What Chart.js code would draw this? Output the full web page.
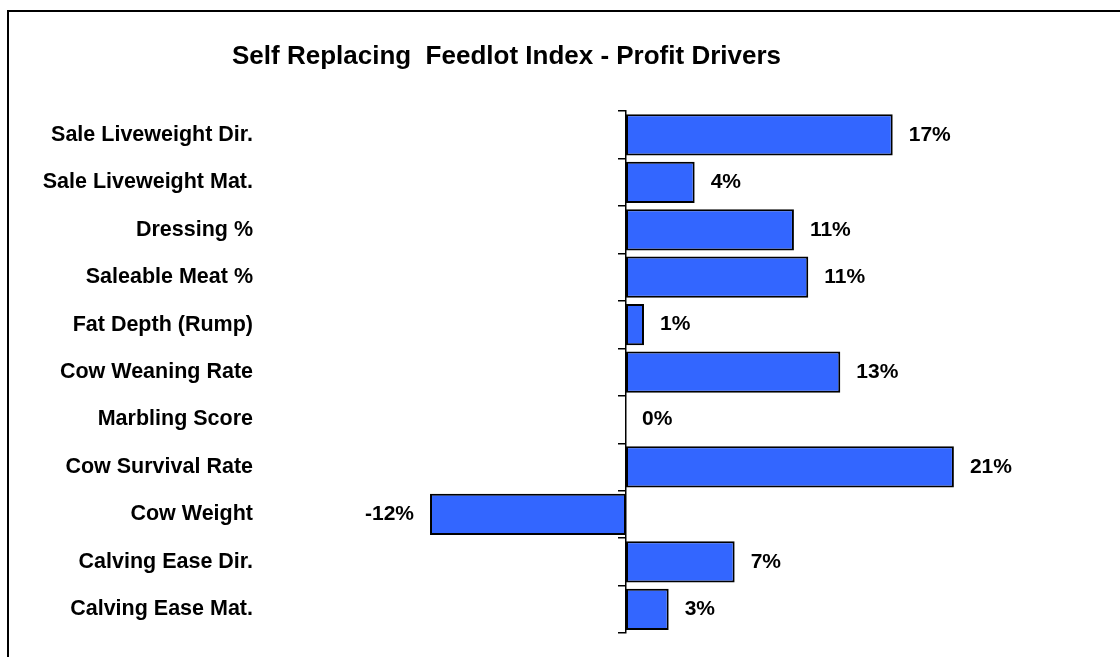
<!DOCTYPE html>
<html>
<head>
<meta charset="utf-8">
<script src="https://cdn.jsdelivr.net/npm/chart.js@4"></script>
<style>
  body { margin: 0; background: #fff; }
  #wrap { position: relative; width: 1120px; height: 657px; overflow: hidden; }
  #frame { position: absolute; left: 7px; top: 10px; width: 1200px; height: 700px;
           border-left: 2px solid #000; border-top: 2px solid #000; }
  #myChart { position: absolute; left: 0; top: 0; }
</style>
</head>
<body>
<div id="wrap"><div id="frame"></div><canvas id="myChart"></canvas></div>
<script>
const traits = ['Sale Liveweight Dir.', 'Sale Liveweight Mat.', 'Dressing %', 'Saleable Meat %', 'Fat Depth (Rump)',
    'Cow Weaning Rate', 'Marbling Score', 'Cow Survival Rate', 'Cow Weight', 'Calving Ease Dir.', 'Calving Ease Mat.']
const share = [16.74, 4.31, 10.54, 11.44, 1.13, 13.45, 0, 20.58, -12.3, 6.82, 2.68]
const shareLabels = ['17%', '4%', '11%', '11%', '1%', '13%', '0%', '21%', '-12%', '7%', '3%']

const font = '"Liberation Sans", Arial, sans-serif'

// value labels next to each bar
const barLabels = {
    id: 'barLabels',
    afterDatasetsDraw(chart) {
        const ctx = chart.ctx
        const meta = chart.getDatasetMeta(0)
        ctx.save()
        ctx.font = 'bold 21px ' + font
        ctx.fillStyle = '#000'
        ctx.textBaseline = 'middle'
        meta.data.forEach((bar, i) => {
            if (share[i] < 0) {
                ctx.textAlign = 'right'
                ctx.fillText(shareLabels[i], bar.x - 16, bar.y)
            } else {
                ctx.textAlign = 'left'
                ctx.fillText(shareLabels[i], bar.x + 16, bar.y)
            }
        })
        ctx.restore()
    }
}

const ctx = document.getElementById('myChart')
const myChart = new Chart(ctx, {
    type: 'bar',
    data: {
        labels: traits,
        datasets: [{
            data: share,
            backgroundColor: '#3366FF',
            borderColor: '#000',
            borderWidth: 2,
            borderSkipped: false,
            barPercentage: 0.87,
            categoryPercentage: 1
        }]
    },
    options: {
        indexAxis: 'y',
        responsive: true,
        maintainAspectRatio: false,
        animation: false,
        layout: { padding: { left: 0, right: 107, top: 0, bottom: 24 } },
        scales: {
            x: { display: false, min: -23.41, max: 24.29 },
            y: {
                position: { x: 0 },
                offset: true,
                ticks: { display: false },
                grid: { offset: true, drawOnChartArea: false, drawTicks: true, tickLength: 7, color: '#000', lineWidth: 1.5 },
                border: { display: true, color: '#000', width: 1.5 }
            },
            y2: {
                type: 'category',
                position: 'left',
                offset: true,
                grid: { display: false, drawTicks: false },
                border: { display: false },
                ticks: { color: '#000', padding: 0, font: { family: font, size: 21.5, weight: 'bold' } },
                afterFit(scale) { scale.width = 253 }
            }
        },
        plugins: {
            legend: { display: false },
            tooltip: { enabled: false },
            title: {
                display: true,
                text: 'Self Replacing  Feedlot Index - Profit Drivers',
                color: '#000',
                font: { family: font, size: 26, weight: 'bold', lineHeight: 1.2 },
                padding: { top: 41, bottom: 39 }
            }
        }
    },
    plugins: [barLabels]
})
</script>
</body>
</html>
